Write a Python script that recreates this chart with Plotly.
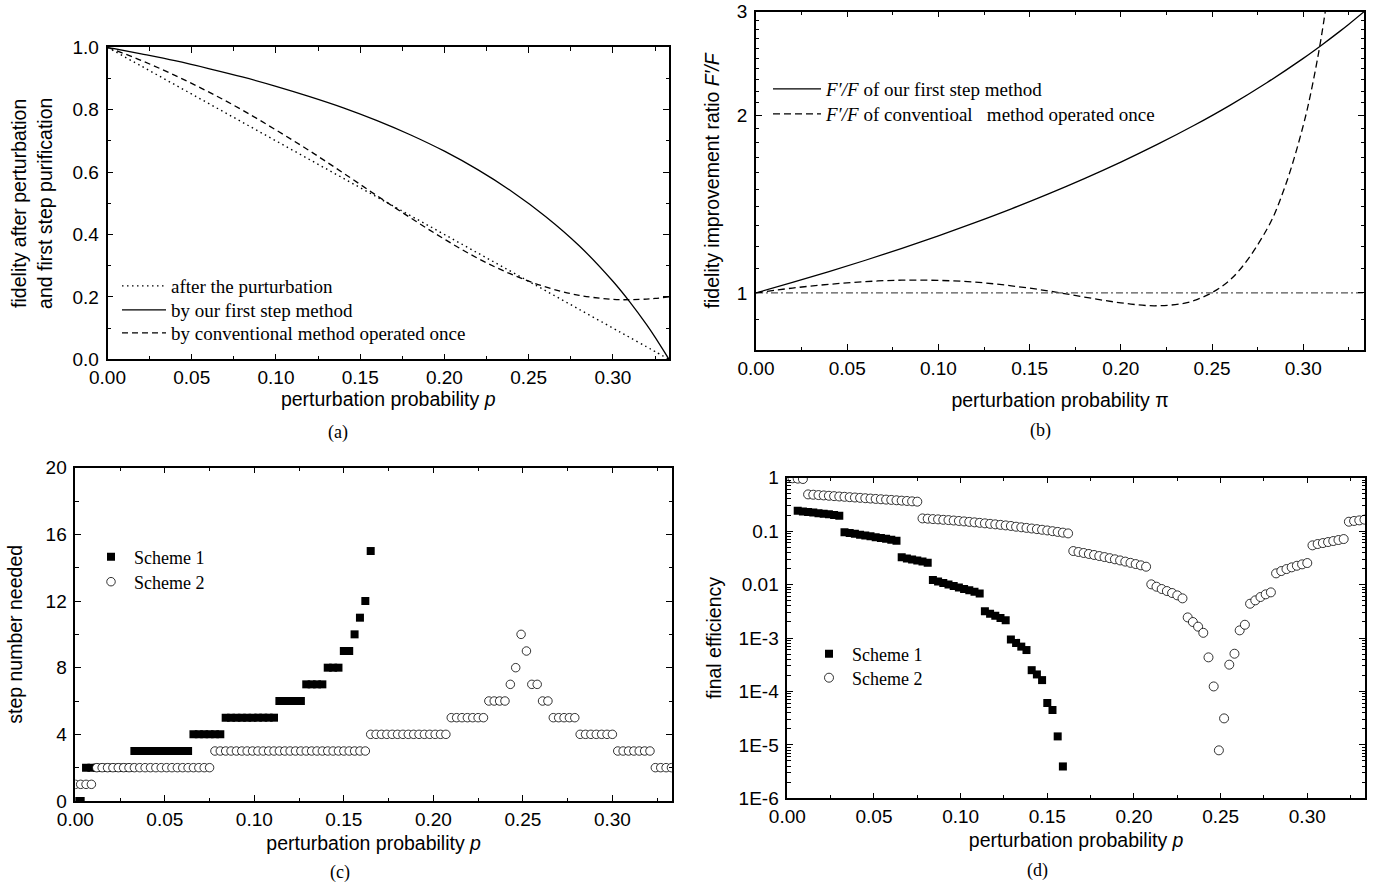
import numpy as np
import plotly.graph_objects as go

W, H = 1387, 887

# ---------- (a) fidelity after perturbation / first step purification ----------
p_a = [0, 0.02, 0.04, 0.06, 0.08, 0.10, 0.12, 0.14, 0.16, 0.18, 0.20, 0.22, 0.24, 0.26,
       0.28, 0.30, 0.31, 0.32, 0.325, 0.3333]
fid_perturbed = [1.0, 0.94, 0.88, 0.82, 0.76, 0.70, 0.64, 0.58, 0.52, 0.46, 0.40, 0.34, 0.28,
                 0.22, 0.16, 0.10, 0.07, 0.04, 0.025, 0.0]
fid_first_step = [1.0, 0.979, 0.957, 0.932, 0.905, 0.875, 0.842, 0.806, 0.765, 0.719, 0.667,
                  0.607, 0.538, 0.458, 0.364, 0.250, 0.184, 0.111, 0.071, 0.0]
fid_conventional = [1.0, 0.958, 0.910, 0.857, 0.799, 0.735, 0.668, 0.597, 0.524, 0.453, 0.385,
                    0.323, 0.272, 0.232, 0.205, 0.192, 0.191, 0.193, 0.195, 0.200]

# ---------- (b) fidelity improvement ratio ----------
ratio_ours = [1.0, 1.042, 1.087, 1.136, 1.190, 1.25, 1.316, 1.389, 1.471, 1.563, 1.667, 1.786,
              1.923, 2.083, 2.273, 2.5, 2.632, 2.778, 2.857, 3.0]
p_b_conv = [0, 0.02, 0.04, 0.06, 0.08, 0.10, 0.12, 0.14, 0.16, 0.18, 0.20, 0.22, 0.24, 0.26,
            0.28, 0.29, 0.30, 0.305, 0.31, 0.315]
ratio_conv = [1.0, 1.019, 1.034, 1.045, 1.051, 1.050, 1.043, 1.028, 1.008, 0.984, 0.962, 0.951,
              0.970, 1.053, 1.281, 1.515, 1.923, 2.25, 2.73, 3.48]
p_ref = [0, 0.3333]
ratio_ref = [1, 1]

# ---------- (c), (d) sampled on the same p grid (step 0.003) ----------
p_grid = np.round(np.arange(112) * 0.003, 3)

steps_s1 = [0, 0, 2, 2, 2, 2, 2, 2, 2, 2, 2,
            3, 3, 3, 3, 3, 3, 3, 3, 3, 3, 3,
            4, 4, 4, 4, 4, 4,
            5, 5, 5, 5, 5, 5, 5, 5, 5, 5,
            6, 6, 6, 6, 6,
            7, 7, 7, 7,
            8, 8, 8,
            9, 9, 10, 11, 12, 15]
steps_s2 = [1, 1, 1, 1,
            2, 2, 2, 2, 2, 2, 2, 2, 2, 2, 2, 2, 2, 2, 2, 2, 2, 2, 2, 2, 2, 2,
            3, 3, 3, 3, 3, 3, 3, 3, 3, 3, 3, 3, 3, 3, 3, 3, 3, 3, 3, 3, 3, 3, 3, 3, 3, 3, 3, 3, 3,
            4, 4, 4, 4, 4, 4, 4, 4, 4, 4, 4, 4, 4, 4, 4,
            5, 5, 5, 5, 5, 5, 5,
            6, 6, 6, 6,
            7, 8, 10, 9, 7, 7, 6, 6,
            5, 5, 5, 5, 5,
            4, 4, 4, 4, 4, 4, 4,
            3, 3, 3, 3, 3, 3, 3,
            2, 2, 2, 2]

# efficiency of scheme 1 from p = 0.006 to 0.159
eff_s1 = [0.240, 0.234, 0.229, 0.223, 0.217, 0.212, 0.206, 0.200, 0.195,
          0.095, 0.092, 0.089, 0.086, 0.083, 0.080, 0.077, 0.074, 0.072, 0.069, 0.066,
          0.0323, 0.0309, 0.0295, 0.0282, 0.0270, 0.0257,
          0.0122, 0.0114, 0.0107, 0.0100, 0.0094, 0.0088, 0.0083, 0.0078, 0.0073, 0.0068,
          0.00315, 0.00285, 0.00260, 0.00236, 0.00214,
          9.4e-4, 8.1e-4, 6.9e-4, 5.95e-4,
          2.5e-4, 2.08e-4, 1.63e-4,
          6.07e-5, 4.49e-5,
          1.44e-5,
          3.95e-6]
eff_s2 = [0.99, 0.975, 0.96, 0.945,
          0.487, 0.480, 0.473, 0.466, 0.459, 0.452, 0.445, 0.439, 0.432, 0.426, 0.420,
          0.413, 0.407, 0.401, 0.395, 0.389, 0.384, 0.378, 0.372, 0.367, 0.361, 0.356,
          0.173, 0.171, 0.168, 0.166, 0.163, 0.161, 0.158, 0.155, 0.152, 0.149, 0.146,
          0.143, 0.140, 0.137, 0.134, 0.131, 0.128, 0.125, 0.121, 0.118, 0.115, 0.112,
          0.109, 0.106, 0.103, 0.0998, 0.0967, 0.0937, 0.0907,
          0.0424, 0.0407, 0.0390, 0.0374, 0.0358, 0.0342, 0.0327, 0.0312, 0.0297, 0.0283,
          0.0269, 0.0255, 0.0242, 0.0229, 0.0216,
          0.0101, 0.00912, 0.00826, 0.00757, 0.00695, 0.00628, 0.00552,
          2.43e-3, 1.99e-3, 1.63e-3, 1.25e-3,
          4.34e-4, 1.24e-4, 7.9e-6, 3.13e-5, 3.17e-4, 5.08e-4, 1.39e-3, 1.77e-3,
          4.38e-3, 5.06e-3, 5.85e-3, 6.56e-3, 7.14e-3,
          0.0162, 0.0179, 0.0195, 0.0210, 0.0225, 0.0239, 0.0253,
          0.0542, 0.0574, 0.0598, 0.0625, 0.0653, 0.0682, 0.0711,
          0.150, 0.155, 0.159, 0.164]

SANS = "Liberation Sans, Arial, sans-serif"
SERIF = "Liberation Serif, Times New Roman, serif"


def dom_x(l, r):
    return [l / W, r / W]


def dom_y(t, b):
    return [1 - b / H, 1 - t / H]


def axis_style(**kw):
    d = dict(showline=True, linecolor="black", linewidth=1.5, mirror="allticks",
             ticks="inside", ticklen=6, tickwidth=1.2, tickcolor="black",
             showgrid=False, zeroline=False, automargin=False,
             tickfont=dict(family=SANS, size=19, color="black"))
    d.update(kw)
    return d


def x_style(dom, anchor, title, standoff):
    return axis_style(domain=dom, anchor=anchor, range=[0, 0.3333], dtick=0.05, tick0=0,
                      tickformat=".2f",
                      minor=dict(dtick=0.025, ticks="inside", ticklen=3.5, tickcolor="black"),
                      title=dict(text=title, standoff=standoff,
                                 font=dict(family=SANS, size=19.5, color="black")))


def y_style(dom, anchor, title, standoff, **kw):
    return axis_style(domain=dom, anchor=anchor, ticklabelstandoff=3,
                      title=dict(text=title, standoff=standoff,
                                 font=dict(family=SANS, size=19.5, color="black")), **kw)


fig = go.Figure()

line_w = 1.3
fig.add_trace(go.Scatter(x=p_a, y=fid_perturbed, mode="lines", name="after the purturbation",
                         line=dict(color="black", width=1.4, dash="1.5px,3.5px", shape="spline"),
                         xaxis="x", yaxis="y", legend="legend"))
fig.add_trace(go.Scatter(x=p_a, y=fid_first_step, mode="lines", name="by our first step method",
                         line=dict(color="black", width=line_w, shape="spline"),
                         xaxis="x", yaxis="y", legend="legend2"))
fig.add_trace(go.Scatter(x=p_a, y=fid_conventional, mode="lines",
                         name="by conventional method operated once",
                         line=dict(color="black", width=line_w, dash="6px,4px", shape="spline"),
                         xaxis="x", yaxis="y", legend="legend3"))

fig.add_trace(go.Scatter(x=p_a, y=ratio_ours, mode="lines",
                         name="<i>F\u2032/F</i> of our first step method",
                         line=dict(color="black", width=line_w, shape="spline"),
                         xaxis="x2", yaxis="y2", legend="legend4"))
fig.add_trace(go.Scatter(x=p_b_conv, y=ratio_conv, mode="lines",
                         name="<i>F\u2032/F</i> of conventioal\u00a0\u00a0 method operated once",
                         line=dict(color="black", width=line_w, dash="7px,4px", shape="spline"),
                         xaxis="x2", yaxis="y2", legend="legend5"))
fig.add_trace(go.Scatter(x=p_ref, y=ratio_ref, mode="lines", showlegend=False,
                         line=dict(color="#555555", width=1.1, dash="7px,3px,2px,3px"),
                         xaxis="x2", yaxis="y2"))

sq = dict(symbol="square", size=8, color="black", line=dict(width=0))
circ = dict(symbol="circle", size=8.5, color="white", line=dict(color="black", width=0.8))

fig.add_trace(go.Scatter(x=p_grid[:len(steps_s1)], y=steps_s1, mode="markers", name="Scheme 1",
                         marker=sq, xaxis="x3", yaxis="y3", legend="legend6"))
fig.add_trace(go.Scatter(x=p_grid, y=steps_s2, mode="markers", name="Scheme 2",
                         marker=circ, xaxis="x3", yaxis="y3", legend="legend7"))

fig.add_trace(go.Scatter(x=p_grid[2:2 + len(eff_s1)], y=eff_s1, mode="markers", name="Scheme 1",
                         marker=sq, xaxis="x4", yaxis="y4", legend="legend8"))
fig.add_trace(go.Scatter(x=p_grid, y=eff_s2, mode="markers", name="Scheme 2",
                         marker=dict(circ, size=9), xaxis="x4", yaxis="y4", legend="legend9"))

# panel boxes in pixels (left, right, top, bottom)
A = (107.5, 669, 47.3, 359.3)
B = (756, 1364, 11.7, 350)
C = (75.3, 672, 467.7, 801)
D = (787.3, 1365, 477.7, 798.3)

p_title = "perturbation probability <i>p</i>"

minor_b = [0.9] + [1 + 0.1 * k for k in range(1, 10)] + [2 + 0.1 * k for k in range(1, 10)]
minor_d = [k * 10.0 ** e for e in range(-6, 0) for k in range(2, 10)]

fig.update_layout(
    width=W, height=H, margin=dict(l=0, r=0, t=0, b=0),
    paper_bgcolor="white", plot_bgcolor="white",
    xaxis=x_style(dom_x(A[0], A[1]), "y", p_title, 5),
    yaxis=y_style(dom_y(A[2], A[3]), "x",
                  "fidelity after perturbation<br>and first step purification", 15,
                  range=[0, 1], dtick=0.2, tickformat=".1f",
                  minor=dict(dtick=0.1, ticks="inside", ticklen=3.5, tickcolor="black")),
    xaxis2=x_style(dom_x(B[0], B[1]), "y2", "perturbation probability \u03c0", 16),
    yaxis2=y_style(dom_y(B[2], B[3]), "x2", "fidelity improvement ratio <i>F\u2032/F</i>", 12,
                   type="log", range=[np.log10(0.8), np.log10(3)], tickvals=[1, 2, 3],
                   minor=dict(tickvals=minor_b, ticks="inside", ticklen=3.5,
                              tickcolor="black")),
    xaxis3=x_style(dom_x(C[0], C[1]), "y3", p_title, 8),
    yaxis3=y_style(dom_y(C[2], C[3]), "x3", "step number needed", 18,
                   range=[0, 20], dtick=4,
                   minor=dict(dtick=2, ticks="inside", ticklen=3.5, tickcolor="black")),
    xaxis4=x_style(dom_x(D[0], D[1]), "y4", p_title, 8),
    yaxis4=y_style(dom_y(D[2], D[3]), "x4", "final efficiency", 12,
                   type="log", range=[-6, 0],
                   tickvals=[1e-6, 1e-5, 1e-4, 1e-3, 0.01, 0.1, 1],
                   ticktext=["1E-6", "1E-5", "1E-4", "1E-3", "0.01", "0.1", "1"],
                   minor=dict(tickvals=minor_d, ticks="inside", ticklen=3.5,
                              tickcolor="black")),
)

# one legend box per entry so the row spacing can follow the reference
leg_specs = [
    ("legend", 117, 286, 44, 19), ("legend2", 117, 310, 44, 19), ("legend3", 117, 333, 44, 19),
    ("legend4", 768, 89, 48, 19), ("legend5", 768, 114, 48, 19),
    ("legend6", 88, 557, 36, 18), ("legend7", 88, 582, 36, 18),
    ("legend8", 806, 654, 36, 18), ("legend9", 806, 678, 36, 18),
]
for key, lx, ly, iw, fs in leg_specs:
    fig.update_layout({key: dict(bgcolor="rgba(0,0,0,0)", borderwidth=0, x=lx / W,
                                 y=1 - ly / H, xanchor="left", yanchor="middle",
                                 itemwidth=iw,
                                 font=dict(family=SERIF, size=fs, color="black"))})

cap_font = dict(family=SERIF, size=18, color="black")
for label, cx, cy in [("(a)", 338, 432), ("(b)", 1040, 430), ("(c)", 340, 872), ("(d)", 1037, 870)]:
    fig.add_annotation(text=label, x=cx / W, y=1 - cy / H, xref="paper", yref="paper",
                       showarrow=False, font=cap_font, xanchor="center", yanchor="middle")

fig.write_html("out.html", config={"displayModeBar": False},
               post_script="document.body.style.margin='0px';")
